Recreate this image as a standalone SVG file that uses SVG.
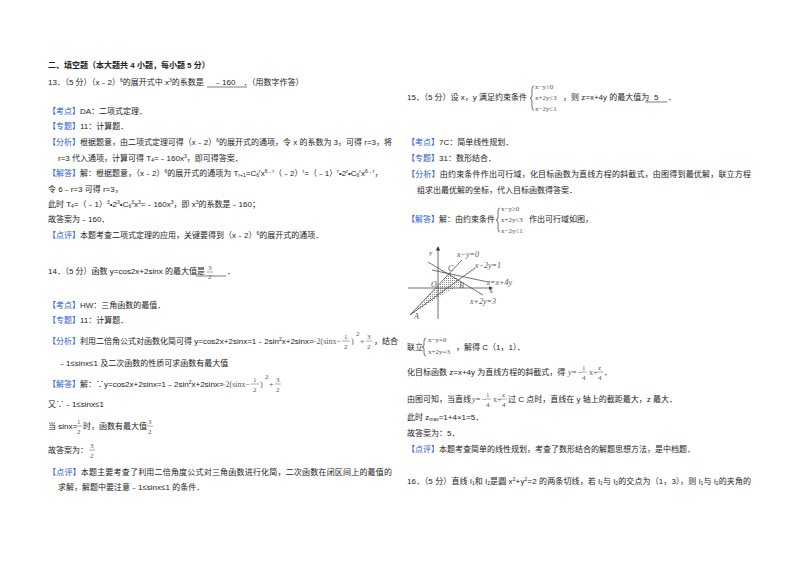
<svg xmlns="http://www.w3.org/2000/svg" width="800" height="565" viewBox="0 0 800 565">
<style>
text{font-family:"Liberation Sans","Noto Sans CJK SC",sans-serif;font-size:8px;fill:#222}
.b{font-weight:bold}
.k{fill:#2a5bd7}
.s{font-size:5px}
.m{font-family:"Liberation Serif","Noto Sans CJK SC",serif;fill:#555}
.f{font-size:7px}
line.g,path.g{stroke:#333;stroke-width:0.7;fill:none}
line.r{stroke:#555;stroke-width:0.5}
line.u{stroke:#222;stroke-width:0.6}
</style>
<defs>
<pattern id="h" width="2" height="2" patternUnits="userSpaceOnUse"><rect width="1" height="1" fill="#888"/></pattern>
<marker id="ar" markerWidth="6" markerHeight="6" refX="5" refY="3" orient="auto"><path d="M0,0L6,3L0,6z" fill="#333"/></marker>
</defs>
<rect width="800" height="565" fill="#fff"/>
<g id="left">
<text x="48" y="68" class="b">二、填空题（本大题共 4 小题，每小题 5 分）</text>
<text x="48" y="85">13．（5 分）（x﹣2）<tspan class="s" dy="-3">6</tspan><tspan dy="3">的展开式中 x</tspan><tspan class="s" dy="-3">3</tspan><tspan dy="3">的系数是　 ﹣160　．（用数字作答）</tspan></text>
<line x1="207" y1="87" x2="247" y2="87" class="u"/>
<text x="48" y="114"><tspan class="k">【考点】</tspan>DA：二项式定理．</text>
<text x="48" y="129"><tspan class="k">【专题】</tspan>11：计算题．</text>
<text x="48" y="145" textLength="344"><tspan class="k">【分析】</tspan>根据题意，由二项式定理可得（x﹣2）<tspan class="s" dy="-3">6</tspan><tspan dy="3">的展开式的通项，令 x 的系数为 3，可得 r=3，将</tspan></text>
<text x="58" y="161">r=3 代入通项，计算可得 T<tspan class="s" dy="1">4</tspan><tspan dy="-1">=﹣160x</tspan><tspan class="s" dy="-3">3</tspan><tspan dy="3">，即可得答案．</tspan></text>
<text x="48" y="176"><tspan class="k">【解答】</tspan>解：根据题意，（x﹣2）<tspan class="s" dy="-3">6</tspan><tspan dy="3">的展开式的通项为 T</tspan><tspan class="s" dy="1">r+1</tspan><tspan dy="-1">=C</tspan><tspan class="s" dy="1">6</tspan><tspan class="s" dy="-4">r</tspan><tspan dy="3">x</tspan><tspan class="s" dy="-3">6﹣r</tspan><tspan dy="3">（﹣2）</tspan><tspan class="s" dy="-3">r</tspan><tspan dy="3">=（﹣1）</tspan><tspan class="s" dy="-3">r</tspan><tspan dy="3">•2</tspan><tspan class="s" dy="-3">r</tspan><tspan dy="3">•C</tspan><tspan class="s" dy="1">6</tspan><tspan class="s" dy="-4">r</tspan><tspan dy="3">x</tspan><tspan class="s" dy="-3">6﹣r</tspan><tspan dy="3">，</tspan></text>
<text x="48" y="192">令 6﹣r=3 可得 r=3，</text>
<text x="48" y="207">此时 T<tspan class="s" dy="1">4</tspan><tspan dy="-1">=（﹣1）</tspan><tspan class="s" dy="-3">3</tspan><tspan dy="3">•2</tspan><tspan class="s" dy="-3">3</tspan><tspan dy="3">•C</tspan><tspan class="s" dy="1">6</tspan><tspan class="s" dy="-4">3</tspan><tspan dy="3">x</tspan><tspan class="s" dy="-3">3</tspan><tspan dy="3">=﹣160x</tspan><tspan class="s" dy="-3">3</tspan><tspan dy="3">，即 x</tspan><tspan class="s" dy="-3">3</tspan><tspan dy="3">的系数是﹣160；</tspan></text>
<text x="48" y="222">故答案为﹣160．</text>
<text x="48" y="238"><tspan class="k">【点评】</tspan>本题考查二项式定理的应用，关键要得到（x﹣2）<tspan class="s" dy="-3">6</tspan><tspan dy="3">的展开式的通项．</tspan></text>

<text x="48" y="274">14．（5 分）函数 y=cos2x+2sinx 的最大值是</text>
<line x1="196" y1="276" x2="226" y2="276" class="u"/>
<text x="208" y="270" class="m f">3</text><line x1="207" y1="272" x2="213" y2="272" class="r"/><text x="208" y="279" class="m f">2</text>
<text x="227" y="274">．</text>
<text x="48" y="308"><tspan class="k">【考点】</tspan>HW：三角函数的最值．</text>
<text x="48" y="323"><tspan class="k">【专题】</tspan>11：计算题．</text>
<text x="48" y="344"><tspan class="k">【分析】</tspan>利用二倍角公式对函数化简可得 y=cos2x+2sinx=1﹣2sin<tspan class="s" dy="-3">2</tspan><tspan dy="3">x+2sinx=</tspan></text>
<text x="312" y="344" class="m">−2(sinx−</text>
<text x="344" y="339" class="m f">1</text><line x1="342" y1="341" x2="350" y2="341" class="r"/><text x="344" y="349" class="m f">2</text>
<text x="351" y="344" class="m">)</text>
<text x="356" y="336" class="m f">2</text>
<text x="360" y="344" class="m">+</text>
<text x="367" y="339" class="m f">3</text><line x1="366" y1="341" x2="372" y2="341" class="r"/><text x="367" y="349" class="m f">2</text>
<text x="374" y="344">，结合</text>
<text x="58" y="366">﹣1≤sinx≤1 及二次函数的性质可求函数有最大值</text>
<text x="48" y="387"><tspan class="k">【解答】</tspan>解：∵y=cos2x+2sinx=1﹣2sin<tspan class="s" dy="-3">2</tspan><tspan dy="3">x+2sinx=</tspan></text>
<text x="221" y="387" class="m">−2(sinx−</text>
<text x="253" y="382" class="m f">1</text><line x1="251" y1="384" x2="259" y2="384" class="r"/><text x="253" y="392" class="m f">2</text>
<text x="260" y="387" class="m">)</text>
<text x="265" y="379" class="m f">2</text>
<text x="269" y="387" class="m">+</text>
<text x="276" y="382" class="m f">3</text><line x1="275" y1="384" x2="281" y2="384" class="r"/><text x="276" y="392" class="m f">2</text>
<text x="48" y="407">又∵﹣1≤sinx≤1</text>
<text x="48" y="429">当 sinx=</text>
<text x="77" y="424" class="m f">1</text><line x1="76" y1="426" x2="82" y2="426" class="r"/><text x="77" y="434" class="m f">2</text>
<text x="83" y="429">时，函数有最大值</text>
<text x="148" y="424" class="m f">3</text><line x1="147" y1="426" x2="153" y2="426" class="r"/><text x="148" y="434" class="m f">2</text>
<text x="48" y="453">故答案为：</text>
<text x="90" y="448" class="m f">3</text><line x1="89" y1="450" x2="95" y2="450" class="r"/><text x="90" y="458" class="m f">2</text>
<text x="48" y="475" textLength="344"><tspan class="k">【点评】</tspan>本题主要考查了利用二倍角度公式对三角函数进行化简，二次函数在闭区间上的最值的</text>
<text x="58" y="490">求解，解题中要注意﹣1≤sinx≤1 的条件．</text>
</g>
<g id="right">
<text x="407" y="100">15．（5 分）设 x，y 满足约束条件</text>
<path d="M534,86 q-2,0 -2,3 v6 q0,3 -2,3 q2,0 2,3 v6 q0,3 2,3" class="g"/>
<text x="535" y="89" class="m f">x−y≥0</text>
<text x="535" y="100" class="m f">x+2y≤3</text>
<text x="535" y="111" class="m f">x−2y≤1</text>
<text x="563" y="100">，则 z=x+4y 的最大值为</text>
<text x="654" y="100">5</text><line x1="645" y1="102" x2="667" y2="102" class="u"/>
<text x="668" y="100">．</text>
<text x="407" y="145"><tspan class="k">【考点】</tspan>7C：简单线性规划．</text>
<text x="407" y="161"><tspan class="k">【专题】</tspan>31：数形结合．</text>
<text x="407" y="177" textLength="344"><tspan class="k">【分析】</tspan>由约束条件作出可行域，化目标函数为直线方程的斜截式，由图得到最优解，联立方程</text>
<text x="417" y="193">组求出最优解的坐标，代入目标函数得答案．</text>
<text x="407" y="222"><tspan class="k">【解答】</tspan>解：由约束条件</text>
<path d="M500,208 q-2,0 -2,3 v6 q0,3 -2,3 q2,0 2,3 v6 q0,3 2,3" class="g"/>
<text x="501" y="211" class="m f">x−y≥0</text>
<text x="501" y="222" class="m f">x+2y≤3</text>
<text x="501" y="233" class="m f">x−2y≤1</text>
<text x="529" y="222">作出可行域如图，</text>
</g>
<g id="graph">
<polygon points="410,315 451,273 462,283" fill="url(#h)"/>
<line class="g" x1="438" y1="319" x2="438" y2="247" marker-end="url(#ar)"/>
<line class="g" x1="408" y1="288" x2="492" y2="288" marker-end="url(#ar)"/>
<line class="g" x1="410" y1="315" x2="462" y2="260"/>
<line class="g" x1="410" y1="315" x2="475" y2="268"/>
<line class="g" x1="428" y1="262" x2="483" y2="295"/>
<line class="g" x1="432" y1="270" x2="488" y2="282"/>
<text x="429" y="255" class="m f">y</text>
<text x="457" y="257" class="m" font-size="6" font-style="italic">x−y=0</text>
<text x="475" y="268" class="m" font-size="6" font-style="italic">x−2y=1</text>
<text x="487" y="285" class="m" font-size="6" font-style="italic">z=x+4y</text>
<text x="470" y="304" class="m" font-size="6" font-style="italic">x+2y=3</text>
<text x="448" y="271" class="m" font-size="7" font-style="italic">C</text>
<text x="431" y="287" class="m" font-size="7" font-style="italic">O</text>
<text x="459" y="288" class="m" font-size="7" font-style="italic">B</text>
<text x="414" y="319" class="m" font-size="7" font-style="italic">A</text>
<text x="489" y="293" class="m" font-size="6">x</text>
</g>
<g id="right2">
<text x="407" y="350">联立</text>
<path d="M426,338 q-2,0 -2,3 v4 q0,2 -2,2 q2,0 2,2 v4 q0,3 2,3" class="g"/>
<text x="428" y="342" class="m f">x−y=0</text>
<text x="428" y="354" class="m f">x+2y=3</text>
<text x="456" y="350">，解得 C（1，1）．</text>
<text x="407" y="375">化目标函数 z=x+4y 为直线方程的斜截式，得</text>
<text x="568" y="375" class="m" font-style="italic">y=−</text>
<text x="582" y="370" class="m f">1</text><line x1="581" y1="372" x2="587" y2="372" class="r"/><text x="582" y="380" class="m f">4</text>
<text x="589" y="375" class="m">x+</text>
<text x="598" y="370" class="m f">z</text><line x1="597" y1="372" x2="603" y2="372" class="r"/><text x="598" y="380" class="m f">4</text>
<text x="604" y="375">．</text>
<text x="407" y="402">由图可知，当直线</text>
<text x="472" y="402" class="m" font-style="italic">y=−</text>
<text x="486" y="397" class="m f">1</text><line x1="485" y1="399" x2="491" y2="399" class="r"/><text x="486" y="407" class="m f">4</text>
<text x="493" y="402" class="m">x+</text>
<text x="502" y="397" class="m f">z</text><line x1="501" y1="399" x2="507" y2="399" class="r"/><text x="502" y="407" class="m f">4</text>
<text x="508" y="402">过 C 点时，直线在 y 轴上的截距最大，z 最大．</text>
<text x="407" y="420">此时 z<tspan class="s" dy="1">max</tspan><tspan dy="-1">=1+4×1=5．</tspan></text>
<text x="407" y="436">故答案为：5．</text>
<text x="407" y="452"><tspan class="k">【点评】</tspan>本题考查简单的线性规划，考查了数形结合的解题思想方法，是中档题．</text>
<text x="407" y="484" textLength="344">16．（5 分）直线 l<tspan class="s" dy="1">1</tspan><tspan dy="-1">和 l</tspan><tspan class="s" dy="1">2</tspan><tspan dy="-1">是圆 x</tspan><tspan class="s" dy="-3">2</tspan><tspan dy="3">+y</tspan><tspan class="s" dy="-3">2</tspan><tspan dy="3">=2 的两条切线，若 l</tspan><tspan class="s" dy="1">1</tspan><tspan dy="-1">与 l</tspan><tspan class="s" dy="1">2</tspan><tspan dy="-1">的交点为（1，3），则 l</tspan><tspan class="s" dy="1">1</tspan><tspan dy="-1">与 l</tspan><tspan class="s" dy="1">2</tspan><tspan dy="-1">的夹角的</tspan></text>
</g>
</svg>
